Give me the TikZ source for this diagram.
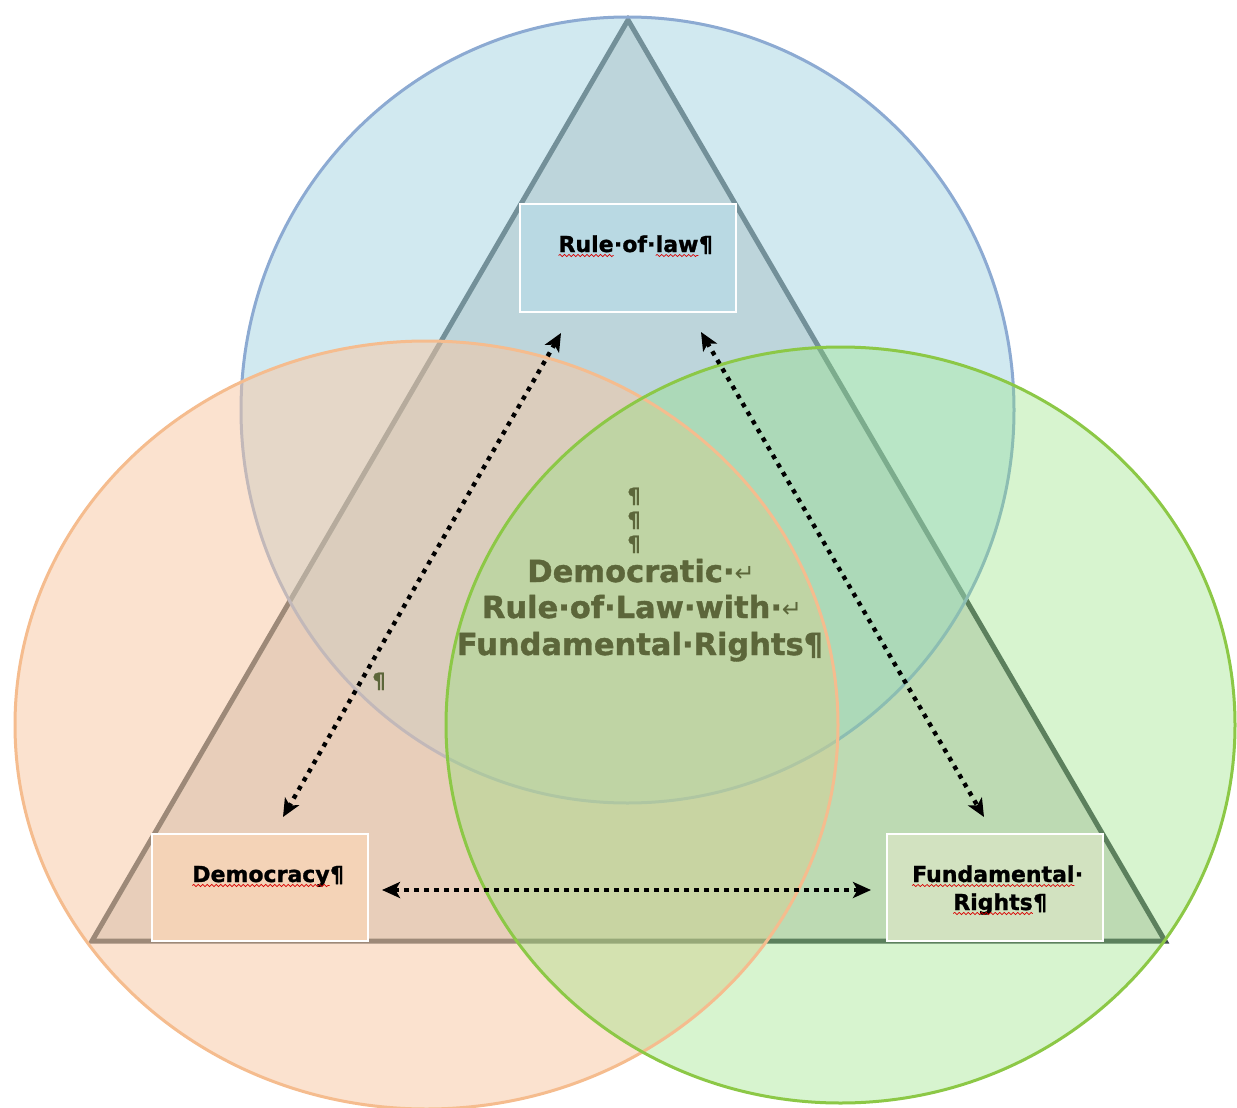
\documentclass[tikz,border=0pt]{standalone}
\usepackage{fontspec}
\setmainfont{DejaVu Sans}
\newfontfamily\arrfont{DejaVu Sans}
\newfontfamily\heavy{DejaVu Sans}[BoldFeatures={FakeBold=1.2}]
\usetikzlibrary{arrows.meta,decorations.pathmorphing}
\definecolor{blueF}{RGB}{165,213,227}
\definecolor{blueB}{RGB}{140,170,210}
\definecolor{orF}{RGB}{249,199,161}
\definecolor{orB}{RGB}{245,188,142}
\definecolor{grF}{RGB}{141,226,120}
\definecolor{grB}{RGB}{140,200,70}
\definecolor{triF}{RGB}{215,215,212}
\definecolor{triB}{RGB}{66,76,80}
\definecolor{olivetext}{RGB}{92,102,58}
\definecolor{ruleBox}{RGB}{185,217,227}
\definecolor{demBox}{RGB}{244,211,183}
\definecolor{funBox}{RGB}{210,226,192}
\newcommand\ret{{\arrfont\mdseries\fontsize{24}{24}\selectfont\raisebox{1pt}{↵}}}
\newcommand\wv[1]{\tikz[baseline=(wvtmp.base)]{\node[inner sep=0pt,outer sep=0pt] (wvtmp) {#1};\draw[wavy] ([yshift=-3.5pt]wvtmp.base west) -- ([yshift=-3.5pt]wvtmp.base east);}}
\tikzset{
  venn/.style={line width=3pt},
  boxnode/.style={draw=white, line width=2pt, minimum width=216pt, minimum height=107pt, inner sep=0pt},
  boxtext/.style={font=\heavy\bfseries\fontsize{22}{26}\selectfont, text=black, inner sep=0pt, anchor=base},
  midtext/.style={font=\heavy\bfseries\fontsize{30.5}{37}\selectfont, text=olivetext, inner sep=0pt, anchor=base},
  pmark/.style={font=\heavy\bfseries\fontsize{21}{22}\selectfont, text=olivetext, inner sep=0pt, anchor=base},
  link/.style={line width=4.4pt, dash pattern=on 4.4pt off 5.6pt,
    {Stealth[length=18pt,width=16pt,inset=4.5pt]}-{Stealth[length=18pt,width=16pt,inset=4.5pt]}},
  wavy/.style={red!85!black, line width=0.7pt, decorate, decoration={snake, amplitude=1.1pt, segment length=4.5pt}},
}
\begin{document}
\begin{tikzpicture}[x=1pt,y=-1pt]
\useasboundingbox (0,0) rectangle (1237,1108);
\fill[white] (0,0) rectangle (1237,1108);
% triangle
\draw[triB, fill=triF, line width=5pt, line join=miter] (628,20) -- (1165,941) -- (92,941) -- cycle;
% circles
\draw[venn, draw=blueB, fill=blueF, fill opacity=0.5] (627.5,410) ellipse [x radius=386.5pt, y radius=393pt];
\fill[orF, fill opacity=0.5] (426.5,725) ellipse [x radius=411.5pt, y radius=384pt];
\fill[grF, fill opacity=0.35] (840.5,725) ellipse [x radius=394.5pt, y radius=378pt];
\draw[venn, draw=orB] (426.5,725) ellipse [x radius=411.5pt, y radius=384pt];
\draw[venn, draw=grB] (840.5,725) ellipse [x radius=394.5pt, y radius=378pt];
% boxes
\node[boxnode, fill=ruleBox, minimum height=108pt] (rule) at (628,258) {};
\node[boxnode, fill=demBox] (dem) at (260,887.5) {};
\node[boxnode, fill=funBox] (fun) at (995,887.5) {};
\node[boxtext] (ruleT) at (635.5,252) {\wv{Rule}·of·\wv{law}¶};
\node[boxtext] (demT) at (268,882) {\wv{Democracy}¶};
\node[boxtext] (funT1) at (997.5,882) {\wv{Fundamental}·};
\node[boxtext] (funT2) at (1000,910) {\wv{Rights}¶};
% centre text
\node[pmark] (p1) at (634,503) {¶};
\node[pmark] (p2) at (634,527) {¶};
\node[pmark] (p3) at (634,551) {¶};
\node[midtext] (m1) at (641,582) {Democratic·\ret};
\node[midtext] (m2) at (642,618) {Rule·of·Law·with·\ret};
\node[midtext] (m3) at (640,655) {Fundamental·Rights¶};
\node[pmark] (p4) at (379,688) {¶};
% connectors
\coordinate (a1) at ([shift={(42,20)}]rule.south west);
\coordinate (a2) at ([shift={(-36,19)}]rule.south east);
\coordinate (b1) at ([shift={(23,-16)}]dem.north);
\coordinate (b2) at ([shift={(13,2.5)}]dem.east);
\coordinate (c1) at ([shift={(-11,-16)}]fun.north);
\coordinate (c2) at ([shift={(-15,2.5)}]fun.west);
\draw[link] (a1) -- (b1);
\draw[link] (a2) -- (c1);
\draw[link] (b2) -- (c2);
\end{tikzpicture}
\end{document}
